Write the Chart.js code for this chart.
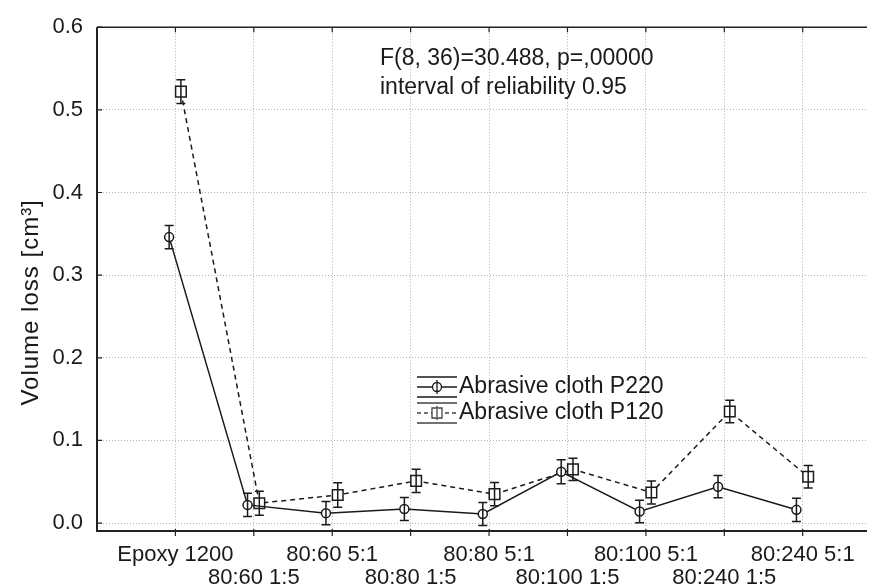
<!DOCTYPE html>
<html>
<head>
<meta charset="utf-8">
<script src="https://cdn.jsdelivr.net/npm/chart.js@4.4.1/dist/chart.umd.min.js"></script>
<style>
  html, body { margin: 0; padding: 0; background: #fff; overflow: hidden; }
</style>
</head>
<body>
<canvas id="wearChart" width="876" height="587"></canvas>
<script>
"use strict";

// Data
const categories = ["Epoxy 1200", "80:60 1:5", "80:60 5:1", "80:80 1:5", "80:80 5:1",
                    "80:100 1:5", "80:100 5:1", "80:240 1:5", "80:240 5:1"];
const yTicks = [0.0, 0.1, 0.2, 0.3, 0.4, 0.5, 0.6];

const p220Values = [0.346, 0.022, 0.012, 0.017, 0.011, 0.062, 0.014, 0.044, 0.016];
const p220Errors = [0.014, 0.014, 0.014, 0.014, 0.014, 0.0145, 0.0135, 0.0135, 0.014];
const p120Values = [0.522, 0.024, 0.034, 0.051, 0.035, 0.065, 0.037, 0.135, 0.056];
const p120Errors = [0.0144, 0.0146, 0.0148, 0.014, 0.014, 0.0135, 0.014, 0.0136, 0.0136];

const seriesLabels = ["Abrasive cloth P220", "Abrasive cloth P120"];
const statsLines = ["F(8, 36)=30.488, p=,00000", "interval of reliability 0.95"];
const yTitle = "Volume loss [cm³]";

const FONT = "'Liberation Sans', Arial, sans-serif";
const INK = "#1a1a1a";

// small side shift so the two series do not sit on top of each other
const p220Points = p220Values.map((v, i) => ({ x: i + 1 - 0.08, y: v }));
const p120Points = p120Values.map((v, i) => ({ x: i + 1 + 0.07, y: v }));

const errorBars = {
  id: "errorBars",
  afterDatasetsDraw(chart) {
    const ctx = chart.ctx;
    const xs = chart.scales.x, ys = chart.scales.y;
    ctx.save();
    ctx.strokeStyle = INK;
    ctx.lineWidth = 1.5;
    ctx.setLineDash([]);
    chart.data.datasets.forEach(ds => {
      ds.data.forEach((p, i) => {
        const e = ds.errors[i];
        const px = xs.getPixelForValue(p.x);
        const top = ys.getPixelForValue(p.y + e);
        const bot = ys.getPixelForValue(p.y - e);
        ctx.beginPath();
        ctx.moveTo(px, top); ctx.lineTo(px, bot);
        ctx.moveTo(px - 4.5, top); ctx.lineTo(px + 4.5, top);
        ctx.moveTo(px - 4.5, bot); ctx.lineTo(px + 4.5, bot);
        ctx.stroke();
      });
    });
    ctx.restore();
  }
};

const frameAndNotes = {
  id: "frameAndNotes",
  afterDraw(chart) {
    const ctx = chart.ctx;
    const a = chart.chartArea;
    const xs = chart.scales.x, ys = chart.scales.y;
    ctx.save();
    ctx.setLineDash([]);
    ctx.strokeStyle = "#222";

    // axes
    ctx.lineWidth = 2;
    ctx.beginPath();
    ctx.moveTo(a.left, a.top);
    ctx.lineTo(a.left, a.bottom);
    ctx.lineTo(a.right, a.bottom);
    ctx.stroke();
    ctx.lineWidth = 1.5;
    ctx.beginPath();
    ctx.moveTo(a.left, a.top);
    ctx.lineTo(a.right, a.top);
    ctx.stroke();

    // tick marks
    ctx.lineWidth = 1.2;
    ctx.beginPath();
    xs.ticks.forEach(t => {
      const px = xs.getPixelForValue(t.value);
      ctx.moveTo(px, a.top); ctx.lineTo(px, a.top + 5);
      ctx.moveTo(px, a.bottom - 2); ctx.lineTo(px, a.bottom + 5);
    });
    ys.ticks.forEach(t => {
      const py = ys.getPixelForValue(t.value);
      ctx.moveTo(a.left, py); ctx.lineTo(a.left + 5, py);
    });
    ctx.stroke();

    ctx.fillStyle = INK;
    ctx.textBaseline = "middle";

    // y axis title, centred a little below the middle as in the original
    ctx.save();
    ctx.font = "24px " + FONT;
    ctx.letterSpacing = "1px";
    ctx.textAlign = "center";
    ctx.translate(31, ys.getPixelForValue(0.267));
    ctx.rotate(-Math.PI / 2);
    ctx.fillText(yTitle, 0, 0);
    ctx.restore();

    // statistics note
    ctx.font = "23px " + FONT;
    ctx.textAlign = "left";
    ctx.fillText(statsLines[0], 380, 59);
    ctx.fillText(statsLines[1], 380, 88);

    // legend
    const lx = 417, lw = 40, rows = [387, 413];
    seriesLabels.forEach((label, k) => {
      const cy = rows[k], cx = lx + lw / 2;
      ctx.strokeStyle = k ? "#444" : INK;
      ctx.lineWidth = 1.3;
      ctx.setLineDash([]);
      ctx.beginPath();
      ctx.moveTo(lx, cy - 10); ctx.lineTo(lx + lw, cy - 10);
      ctx.moveTo(lx, cy + 10); ctx.lineTo(lx + lw, cy + 10);
      ctx.moveTo(cx, cy - 7); ctx.lineTo(cx, cy + 7);
      ctx.stroke();
      ctx.setLineDash(k ? [4, 3] : []);
      ctx.beginPath();
      ctx.moveTo(lx, cy); ctx.lineTo(lx + lw, cy);
      ctx.stroke();
      ctx.setLineDash([]);
      ctx.fillStyle = "#fff";
      ctx.beginPath();
      if (k) ctx.rect(cx - 5, cy - 5, 10, 10);
      else ctx.arc(cx, cy, 4.5, 0, Math.PI * 2);
      ctx.fill();
      ctx.stroke();
      ctx.beginPath();
      ctx.moveTo(cx, cy - 4); ctx.lineTo(cx, cy + 4);
      ctx.stroke();
      ctx.fillStyle = INK;
      ctx.fillText(label, lx + lw + 2, cy);
    });
    ctx.restore();
  }
};

const tickFont = { family: FONT, size: 22, lineHeight: 1.05 };

new Chart(document.getElementById("wearChart"), {
  type: "scatter",
  data: {
    datasets: [{
      label: seriesLabels[0],
      data: p220Points,
      errors: p220Errors,
      showLine: true,
      borderColor: INK,
      borderWidth: 1.5,
      pointStyle: "circle",
      pointRadius: 4.5,
      pointBorderWidth: 1.5,
      pointBackgroundColor: "#fff",
      pointBorderColor: INK
    }, {
      label: seriesLabels[1],
      data: p120Points,
      errors: p120Errors,
      showLine: true,
      borderColor: INK,
      borderWidth: 1.5,
      borderDash: [5, 4],
      pointStyle: "rect",
      pointRadius: 7.5,
      pointBorderWidth: 1.5,
      pointBackgroundColor: "#fff",
      pointBorderColor: INK
    }]
  },
  options: {
    responsive: false,
    animation: false,
    devicePixelRatio: 1,
    layout: { padding: { top: 25, left: 0, right: 0, bottom: 0 } },
    plugins: {
      legend: { display: false },
      tooltip: { enabled: false }
    },
    scales: {
      x: {
        type: "linear",
        min: 0,
        max: 9.82,
        afterBuildTicks: s => { s.ticks = categories.map((c, i) => ({ value: i + 1 })); },
        afterFit: s => { s.height = 56; },
        ticks: {
          autoSkip: false,
          maxRotation: 0,
          padding: 12,
          color: INK,
          font: tickFont,
          callback: v => {
            const i = Math.round(v) - 1;
            return i % 2 ? ["", categories[i]] : categories[i];
          }
        },
        grid: { color: "#b4b4b4", lineWidth: 1, drawTicks: false },
        border: { display: false, dash: [1, 2] }
      },
      y: {
        type: "linear",
        min: -0.0096,
        max: 0.6,
        afterBuildTicks: s => { s.ticks = yTicks.map(v => ({ value: v })); },
        afterFit: s => { s.width = 97; },
        ticks: {
          padding: 14,
          color: INK,
          font: { family: FONT, size: 22 },
          callback: v => v.toFixed(1)
        },
        grid: { color: "#b4b4b4", lineWidth: 1, drawTicks: false },
        border: { display: false, dash: [1, 2] }
      }
    }
  },
  plugins: [errorBars, frameAndNotes]
});
</script>
</body>
</html>
